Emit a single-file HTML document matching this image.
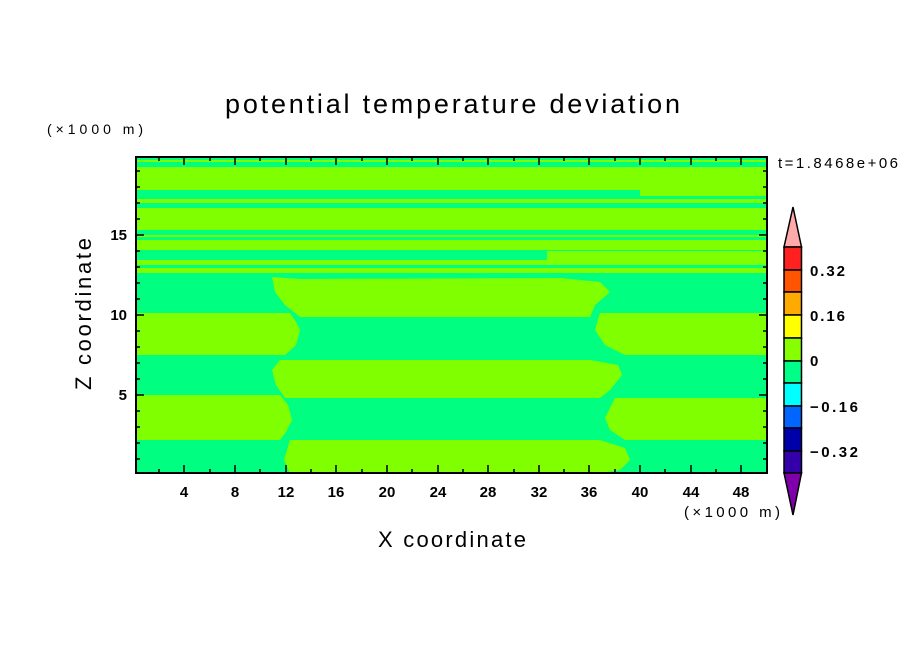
<!DOCTYPE html>
<html><head><meta charset="utf-8"><style>html,body{margin:0;padding:0;background:#fff}svg{display:block}text{font-family:"Liberation Sans",sans-serif;fill:#000}</style></head><body>
<svg width="904" height="654" xmlns="http://www.w3.org/2000/svg">
<rect width="904" height="654" fill="#fff"/>
<text x="225" y="113" font-size="27" textLength="455" lengthAdjust="spacing">potential temperature deviation</text>
<text x="47" y="134" font-size="14" textLength="96" lengthAdjust="spacing">(×1000 m)</text>
<text x="778" y="168" font-size="15" textLength="120" lengthAdjust="spacing">t=1.8468e+06</text>
<g>
<rect x="136" y="157" width="631" height="316" fill="#00ff80"/>
<g fill="#80ff00">
<rect x="136" y="160" width="631" height="2"/>
<rect x="136" y="167" width="631" height="23"/>
<rect x="640" y="190" width="127" height="6"/>
<rect x="136" y="199" width="631" height="4"/>
<rect x="136" y="208" width="631" height="22"/>
<rect x="136" y="235" width="631" height="2"/>
<rect x="136" y="240" width="631" height="10"/>
<rect x="547" y="251" width="220" height="9"/>
<rect x="136" y="260" width="631" height="5"/>
<rect x="136" y="268" width="631" height="5"/>
<polygon points="136,313 290,313 296,322 300,330 296,345 285,355 136,355"/>
<polygon points="136,395 280,395 288,405 292,420 286,432 280,440 136,440"/>
<polygon points="272,277 300,279 560,278 600,282 610,292 595,305 590,317 300,317 285,305 275,292"/>
<polygon points="280,360 590,360 618,365 622,375 610,390 600,398 285,398 276,385 272,370"/>
<polygon points="290,440 600,440 625,448 630,460 620,470 600,473 290,473 284,460"/>
<polygon points="600,313 767,313 767,355 625,355 605,345 595,330"/>
<polygon points="615,398 767,398 767,440 625,440 610,430 605,418"/>
</g>
<rect x="136" y="157" width="631" height="316" fill="none" stroke="#000" stroke-width="2"/>
<g stroke="#000" stroke-width="1.5">
<path d="M159,473v-4M184,473v-8M210,473v-4M235,473v-8M260,473v-4M286,473v-8M311,473v-4M336,473v-8M362,473v-4M387,473v-8M412,473v-4M438,473v-8M463,473v-4M488,473v-8M514,473v-4M539,473v-8M564,473v-4M589,473v-8M615,473v-4M640,473v-8M665,473v-4M691,473v-8M716,473v-4M741,473v-8M767,473v-4"/>
<path d="M159,157v4M184,157v8M210,157v4M235,157v8M260,157v4M286,157v8M311,157v4M336,157v8M362,157v4M387,157v8M412,157v4M438,157v8M463,157v4M488,157v8M514,157v4M539,157v8M564,157v4M589,157v8M615,157v4M640,157v8M665,157v4M691,157v8M716,157v4M741,157v8"/>
<path d="M136,459h4M136,443h4M136,427h4M136,411h4M136,395h8M136,379h4M136,363h4M136,347h4M136,331h4M136,315h8M136,299h4M136,283h4M136,267h4M136,251h4M136,235h8M136,219h4M136,203h4M136,187h4M136,171h4"/>
<path d="M767,459h-4M767,443h-4M767,427h-4M767,411h-4M767,395h-8M767,379h-4M767,363h-4M767,347h-4M767,331h-4M767,315h-8M767,299h-4M767,283h-4M767,267h-4M767,251h-4M767,235h-8M767,219h-4M767,203h-4M767,187h-4M767,171h-4"/>
</g>
</g>
<g font-size="15" text-anchor="middle" font-weight="bold">
<text x="184" y="497">4</text><text x="235" y="497">8</text><text x="286" y="497">12</text><text x="336" y="497">16</text><text x="387" y="497">20</text><text x="438" y="497">24</text><text x="488" y="497">28</text><text x="539" y="497">32</text><text x="589" y="497">36</text><text x="640" y="497">40</text><text x="691" y="497">44</text><text x="741" y="497">48</text>
</g>
<text x="684" y="517" font-size="15" textLength="96" lengthAdjust="spacing">(×1000 m)</text>
<g font-size="15" text-anchor="end" font-weight="bold">
<text x="127" y="400">5</text><text x="127" y="320">10</text><text x="127" y="240">15</text>
</g>
<text x="378" y="547" font-size="22" textLength="148" lengthAdjust="spacing">X coordinate</text>
<text transform="translate(91,390) rotate(-90)" font-size="22" textLength="152" lengthAdjust="spacing">Z coordinate</text>
<g stroke="#000" stroke-width="1.5">
<polygon points="793,207 801.5,247 784,247" fill="#ffaaaa"/>
<rect x="784" y="247" width="17.5" height="23" fill="#ff2020"/>
<rect x="784" y="270" width="17.5" height="22" fill="#ff5500"/>
<rect x="784" y="292" width="17.5" height="23" fill="#ffaa00"/>
<rect x="784" y="315" width="17.5" height="23" fill="#ffff00"/>
<rect x="784" y="338" width="17.5" height="23" fill="#88ff00"/>
<rect x="784" y="361" width="17.5" height="22" fill="#00ff88"/>
<rect x="784" y="383" width="17.5" height="23" fill="#00ffff"/>
<rect x="784" y="406" width="17.5" height="22" fill="#0066ff"/>
<rect x="784" y="428" width="17.5" height="23" fill="#0000aa"/>
<rect x="784" y="451" width="17.5" height="22" fill="#3300aa"/>
<polygon points="784,473 801.5,473 793,515" fill="#7f00aa"/>
</g>
<g font-size="15" font-weight="bold">
<text x="810" y="276" textLength="35" lengthAdjust="spacing">0.32</text><text x="810" y="321" textLength="35" lengthAdjust="spacing">0.16</text><text x="810" y="366">0</text><text x="810" y="412" textLength="48" lengthAdjust="spacing">−0.16</text><text x="810" y="457" textLength="48" lengthAdjust="spacing">−0.32</text>
</g>
</svg>
</body></html>
